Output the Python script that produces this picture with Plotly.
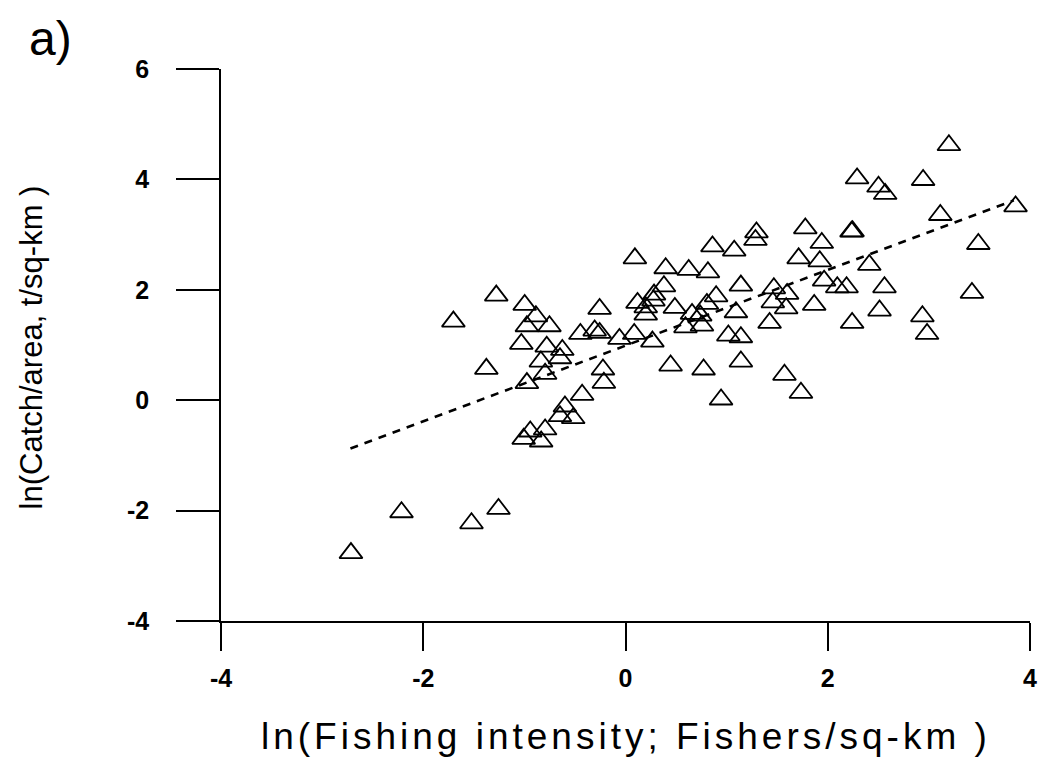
import plotly.graph_objects as go

# ln(Fishing intensity) values
fishing_ln = [
    -2.715, -2.215, -1.523, -1.256, -1.702, -1.376, -1.278, -0.997, -0.886, -0.975,
    -0.752, -1.030, -0.779, -0.625, -0.648, -0.837, -0.795, -0.975, -0.223, -0.214,
    -0.429, -0.599, -0.648, -0.517, -0.942, -0.795, -1.007, -0.834, 0.093, -0.256,
    0.397, 0.625, 0.815, 0.860, 0.380, 0.282, 0.119, 0.276, 0.200, 0.200,
    0.488, 0.896, 0.805, 0.658, 0.739, 0.593, 0.756, 1.017, -0.446, -0.305,
    -0.256, -0.060, 0.086, 0.266, 0.446, 0.772, 1.778, 1.295, 1.285, 1.941,
    1.075, 1.712, 1.921, 1.964, 1.141, 1.467, 1.598, 1.866, 1.457, 1.589,
    1.092, 1.425, 1.141, 1.141, 1.572, 1.735, 0.945, 3.198, 2.290, 2.943,
    2.502, 2.568, 3.113, 3.857, 2.235, 2.245, 3.489, 2.411, 2.094, 2.186,
    2.561, 3.426, 2.512, 2.241, 2.936, 2.982,
]
# ln(Catch/area) values
catch_ln = [
    -2.77, -2.03, -2.23, -1.97, 1.424, 0.568, 1.895, 1.727, 1.52, 1.34,
    1.34, 1.02, 0.97, 0.91, 0.76, 0.70, 0.478, 0.31, 0.556, 0.315,
    0.098, -0.114, -0.29, -0.326, -0.567, -0.53, -0.70, -0.748, 2.57, 1.654,
    2.39, 2.36, 2.317, 2.787, 2.063, 1.913, 1.763, 1.805, 1.683, 1.551,
    1.672, 1.882, 1.745, 1.564, 1.533, 1.321, 1.352, 1.171, 1.20, 1.262,
    1.22, 1.111, 1.20, 1.062, 0.628, 0.556, 3.113, 3.04, 2.903, 2.849,
    2.71, 2.57, 2.516, 2.166, 2.076, 2.027, 1.926, 1.727, 1.774, 1.665,
    1.593, 1.40, 1.14, 0.70, 0.46, 0.134, 0.013, 4.62, 4.018, 3.989,
    3.868, 3.736, 3.355, 3.511, 3.053, 3.06, 2.83, 2.45, 2.045, 2.045,
    2.045, 1.944, 1.624, 1.40, 1.52, 1.20,
]

# regression line end points
fit_x = [-2.72, 3.84]
fit_y = [-0.875, 3.62]

x_tick_vals = [-4, -2, 0, 2, 4]
x_tick_text = ["-4", "-2", "0", "2", "4"]
y_tick_vals = [-4, -2, 0, 2, 4, 6]
y_tick_text = ["-4", "-2", "0", "2", "4", "6"]

x_title = "ln(Fishing intensity; Fishers/sq-km )"
y_title = "ln(Catch/area, t/sq-km )"
panel_label = "a)"

fig = go.Figure()
fig.add_trace(go.Scatter(
    x=fishing_ln, y=catch_ln, mode="markers",
    marker=dict(symbol="triangle-up-open", size=20, color="black",
                line=dict(width=1.8, color="black")),
    showlegend=False, hoverinfo="skip",
))
fig.add_trace(go.Scatter(
    x=fit_x, y=fit_y, mode="lines",
    line=dict(color="black", width=2.6, dash="8px,7px"),
    showlegend=False, hoverinfo="skip",
))

tickfont = dict(family="Liberation Sans", size=25, color="black", weight="bold")

fig.update_layout(
    width=1047, height=762,
    margin=dict(l=221, r=10, t=69, b=140.5),
    paper_bgcolor="white", plot_bgcolor="white",
    xaxis=dict(
        range=[-4, 4], tickmode="array", tickvals=x_tick_vals, ticktext=x_tick_text,
        ticks="outside", ticklen=28, tickwidth=1.5, tickcolor="black",
        showline=True, linecolor="black", linewidth=1.5,
        showgrid=False, zeroline=False, tickfont=tickfont,
        ticklabelstandoff=6,
    ),
    yaxis=dict(
        range=[-4, 6], tickmode="array", tickvals=y_tick_vals, ticktext=y_tick_text,
        ticks="outside", ticklen=43, tickwidth=1.5, tickcolor="black",
        showline=True, linecolor="black", linewidth=1.5,
        showgrid=False, zeroline=False, tickfont=tickfont,
        ticklabelstandoff=22,
    ),
    annotations=[
        dict(text='<span style="letter-spacing:4px">' + x_title + '</span>',
             xref="paper", yref="paper", x=0.5, y=-0.209,
             xanchor="center", yanchor="middle", showarrow=False,
             font=dict(family="Liberation Sans", size=37, color="black")),
        dict(text=y_title, textangle=-90,
             xref="paper", yref="paper", x=-0.234, y=0.495,
             xanchor="center", yanchor="middle", showarrow=False,
             font=dict(family="Liberation Sans", size=31, color="black")),
        dict(text=panel_label,
             xref="paper", yref="paper", x=-0.240, y=1.056,
             xanchor="left", yanchor="middle", showarrow=False,
             font=dict(family="Liberation Sans", size=48, color="black")),
    ],
)

fig.write_html("out.html")
